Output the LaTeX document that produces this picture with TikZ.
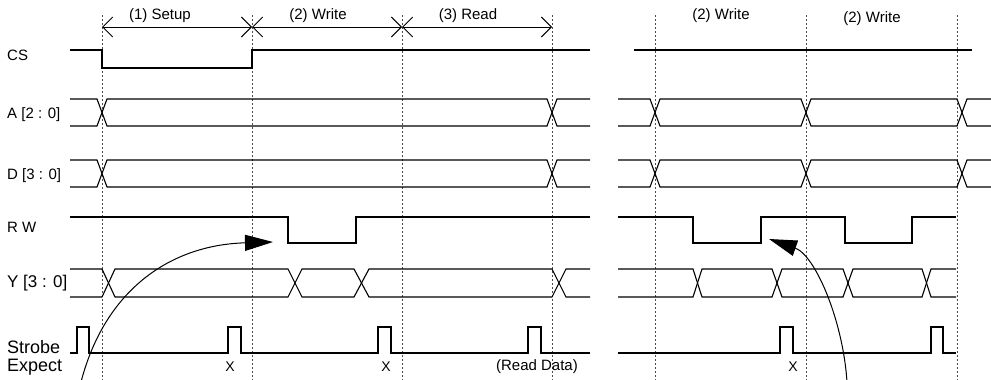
\documentclass[tikz,border=0pt]{standalone}
\usepackage{fontspec}
\setmainfont{Liberation Sans}
\usetikzlibrary{arrows.meta}

\begin{document}
\begin{tikzpicture}[x=1pt, y=-1pt,
    sig/.style={line width=1.1pt, line join=miter},
    guide/.style={line width=0.8pt, black!70, dash pattern=on 2pt off 2pt},
    lbl/.style={anchor=west, inner sep=0pt, font=\fontsize{15}{18}\selectfont},
    biglbl/.style={lbl, font=\fontsize{17}{20}\selectfont},
    strobelbl/.style={lbl, font=\fontsize{18}{21}\selectfont},
    phase/.style={inner sep=0pt, font=\fontsize{15}{18}\selectfont},
    xmark/.style={inner sep=0pt, font=\fontsize{14}{17}\selectfont},
    phasearrow/.style={line width=0.9pt, {Straight Barb[length=10pt,width=20pt]}-{Straight Barb[length=10pt,width=20pt]}},
    hint/.style={line width=1pt, -{Triangle[length=28pt,width=16pt]}}]
    \useasboundingbox (0,0) rectangle (991,380);
    \foreach \x in {102,252,402,552,655,806,957}
        \draw[guide] (\x,15) -- (\x,380);

    \coordinate (p1) at (102,27);
    \coordinate (p2) at (252,27);
    \coordinate (p3) at (402,27);
    \coordinate (p4) at (552,27);
    \draw[phasearrow] (p1) -- (p2);
    \draw[phasearrow] (p2) -- (p3);
    \draw[phasearrow] (p3) -- (p4);
    \node[phase] (setup) at (160,16) {(1) Setup};
    \node[phase] (write) at (318,16) {(2) Write};
    \node[phase] (read) at (468,16) {(3) Read};
    \node[phase] (writea) at (721,16) {(2) Write};
    \node[phase] (writeb) at (872,19) {(2) Write};

    \node[lbl] (cs) at (7,55) {CS};
    \node[lbl] (addr) at (7,115) {A [2 : 0]};
    \node[lbl] (data) at (7,176) {D [3 : 0]};
    \node[lbl] (rw) at (7,227) {R W};
    \node[biglbl] (out) at (7,283) {Y [3 : 0]};
    \node[strobelbl] (strobe) at (7,347) {Strobe};
    \node[strobelbl] (expect) at (7,367) {Expect};

    \draw[sig] (70,50) -- (102,50) -- (102,68) -- (252,68) -- (252,50) -- (590,50);
    \draw[sig] (634,50) -- (972,50);

    \draw[sig] (70,99) -- (97,99) -- (107,126) -- (547,126) -- (557,99) -- (590,99);
    \draw[sig] (70,126) -- (97,126) -- (107,99) -- (547,99) -- (557,126) -- (590,126);
    \draw[sig] (618,99) -- (650,99) -- (660,126) -- (801,126) -- (811,99) -- (957,99) -- (967,126) -- (991,126);
    \draw[sig] (618,126) -- (650,126) -- (660,99) -- (801,99) -- (811,126) -- (957,126) -- (967,99) -- (991,99);

    \draw[sig] (70,160) -- (97,160) -- (107,187) -- (547,187) -- (557,160) -- (590,160);
    \draw[sig] (70,187) -- (97,187) -- (107,160) -- (547,160) -- (557,187) -- (590,187);
    \draw[sig] (618,160) -- (650,160) -- (660,187) -- (801,187) -- (811,160) -- (957,160) -- (967,187) -- (991,187);
    \draw[sig] (618,187) -- (650,187) -- (660,160) -- (801,160) -- (811,187) -- (957,187) -- (967,160) -- (991,160);

    \draw[sig] (70,217) -- (288,217) -- (288,243) -- (356,243) -- (356,217) -- (590,217);
    \draw[sig] (618,217) -- (693,217) -- (693,243) -- (761,243) -- (761,217) -- (845,217) -- (845,243) -- (912,243) -- (912,217) -- (956,217);

    \draw[sig] (70,269) -- (102,269) -- (115,297) -- (288,297) -- (302,269) -- (354,269) -- (369,297) -- (552,297) -- (566,269) -- (590,269);
    \draw[sig] (70,297) -- (102,297) -- (115,269) -- (288,269) -- (302,297) -- (354,297) -- (369,269) -- (552,269) -- (566,297) -- (590,297);
    \draw[sig] (618,269) -- (693,269) -- (702,297) -- (772,297) -- (782,269) -- (843,269) -- (853,297) -- (922,297) -- (931,269) -- (956,269);
    \draw[sig] (618,297) -- (693,297) -- (702,269) -- (772,269) -- (782,297) -- (843,297) -- (853,269) -- (922,269) -- (931,297) -- (956,297);

    \draw[sig] (70,353) -- (77,353) -- (77,327) -- (89,327) -- (89,353) -- (228,353) -- (228,327) -- (241,327) -- (241,353)
        -- (378,353) -- (378,327) -- (391,327) -- (391,353) -- (528,353) -- (528,327) -- (541,327) -- (541,353) -- (590,353);
    \draw[sig] (618,353) -- (780,353) -- (780,327) -- (793,327) -- (793,353) -- (931,353) -- (931,327) -- (943,327) -- (943,353) -- (956,353);

    \node[xmark] (x1) at (230,367) {X};
    \node[xmark] (x2) at (386,367) {X};
    \node[phase] (rdata) at (537,367) {(Read Data)};
    \node[xmark] (x3) at (793,367) {X};

    \coordinate (h1s) at (81,382);
    \coordinate (h1e) at (273,242);
    \draw[hint] (h1s) .. controls (105,290) and (170,245) .. (h1e);
    \coordinate (h2s) at (847,382);
    \coordinate (h2e) at (769,239);
    \draw[hint] (h2s) .. controls (843,320) and (815,255) .. (h2e);
\end{tikzpicture}
\end{document}
